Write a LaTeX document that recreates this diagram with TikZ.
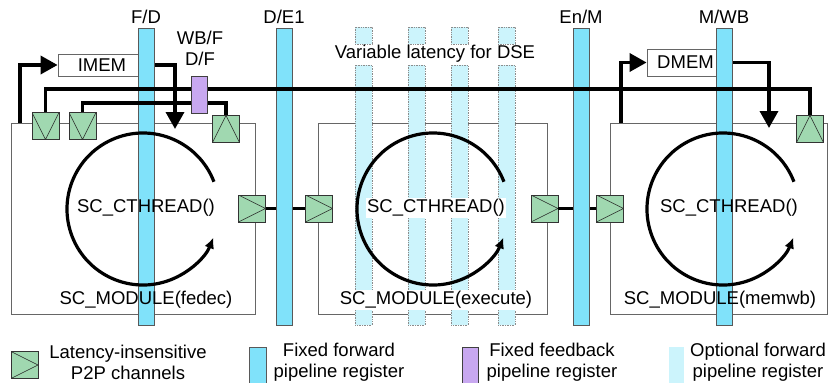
\documentclass[tikz,border=0pt]{standalone}
\usepackage{fontspec}
\setmainfont{Liberation Sans}
\usetikzlibrary{arrows.meta}
\definecolor{regcyan}{RGB}{128,226,250}
\definecolor{optcyan}{RGB}{204,244,252}
\definecolor{fbpurple}{RGB}{200,168,240}
\definecolor{chgreen}{RGB}{160,216,176}

\tikzset{
  module/.style={draw=black!60, line width=0.8pt, inner sep=0},
  memblock/.style={draw=black!60, line width=0.8pt, fill=white, inner sep=0},
  chan/.style={draw=black!80, fill=chgreen, line width=0.8pt, minimum size=27pt, inner sep=0},
  chanright/.style={chan, path picture={
      \draw[black!85, line width=0.6pt] (path picture bounding box.north west)
        -- (path picture bounding box.east) -- (path picture bounding box.south west);}},
  chanup/.style={chan, path picture={
      \draw[black!85, line width=0.6pt] (path picture bounding box.south west)
        -- (path picture bounding box.north) -- (path picture bounding box.south east);}},
  chandown/.style={chan, path picture={
      \draw[black!85, line width=0.6pt] (path picture bounding box.north west)
        -- (path picture bounding box.south) -- (path picture bounding box.north east);}},
  fwdreg/.style={draw=black!65, fill=regcyan, line width=0.8pt, minimum width=16pt, minimum height=297pt, inner sep=0},
  optreg/.style={draw=black!45, fill=optcyan, line width=0.7pt, densely dotted},
  fbreg/.style={draw=black!75, fill=fbpurple, line width=0.8pt, minimum width=16pt, minimum height=37pt, inner sep=0},
  memlink/.style={line width=3.5pt, -{Triangle[length=17pt,width=18pt]}},
  p2p/.style={line width=3.5pt},
  fbline/.style={line width=3.5pt},
  thread/.style={line width=3.2pt, -{Latex[length=11pt,width=10pt]}},
  label/.style={inner sep=1pt, align=center}
}

% one clocked thread: arc drawn round a centre coordinate
\newcommand{\cthread}[1]{
  \draw[thread] ([shift={(-21:76)}]#1) arc[start angle=-21, end angle=-338, radius=76];
}

\begin{document}
\begin{tikzpicture}[x=1pt,y=-1pt,font=\fontsize{18.5}{21}\selectfont]
  \useasboundingbox (0,0) rectangle (828,383);

  % the three stages
  \node[module, minimum width=244, minimum height=191] (fedec) at (133,218.5) {};
  \node[module, minimum width=229, minimum height=191] (execute) at (432.5,218.5) {};
  \node[module, minimum width=217, minimum height=191] (memwb) at (718.5,218.5) {};

  % memories
  \node[memblock, minimum width=88, minimum height=22] (imem) at (102,65) {IMEM};
  \node[memblock, minimum width=77, minimum height=27] (dmem) at (685.5,62.5) {DMEM};

  % ports on the stages
  \node[chandown] (wbport) at (45.5,126) {};
  \node[chandown] (dfport) at (82.5,126) {};
  \node[chanup] (dfout) at (226,129) {};
  \node[chanup] (wbout) at (810,129) {};
  \node[chanright] (fdout) at (252,208.5) {};
  \node[chanright] (exin) at (319,208.5) {};
  \node[chanright] (exout) at (544.5,208.5) {};
  \node[chanright] (mwin) at (610,208.5) {};

  % memory accesses
  \coordinate (fetchreq) at (20,123);
  \coordinate (fetchrsp) at (175,129);
  \coordinate (memreq) at (621,123);
  \coordinate (memrsp) at (769,128);
  \draw[memlink] (fetchreq) |- (imem.west);
  \draw[memlink] (imem.east) -| (fetchrsp);
  \draw[memlink] (memreq) |- (dmem.west);
  \draw[memlink] (dmem.east) -| (memrsp);

  % forward channels
  \draw[p2p] (fdout.east) -- (exin.west);
  \draw[p2p] (exout.east) -- (mwin.west);

  % fixed forward registers
  \node[fwdreg] (fd) at (146,176.5) {};
  \node[fwdreg] (de) at (284,176.5) {};
  \node[fwdreg] (enm) at (581,176.5) {};
  \node[fwdreg] (mwb) at (724,176.5) {};
  \node (fdlbl) at (146,17) {F/D};
  \node (delbl) at (284,17) {D/E1};
  \node (enmlbl) at (581,17) {En/M};
  \node (mwblbl) at (724,17) {M/WB};

  % optional registers inside execute
  \foreach \x in {363.5,416.5,459.5,506.5} {
    \draw[optreg] (\x-8.5,27) rectangle (\x+8.5,44);
    \draw[optreg] (\x-8.5,65) rectangle (\x+8.5,325);
  }
  \node (dse) at (435,54) {Variable latency for DSE};

  % threads
  \node[label] (fdthr) at (146,208) {SC\_CTHREAD()};
  \node[label] (fdmod) at (146,300) {SC\_MODULE(fedec)};
  \node[label, fill=white] (exthr) at (436,208) {SC\_CTHREAD()};
  \node[label, fill=white] (exmod) at (436,300) {SC\_MODULE(execute)};
  \node[label] (mwthr) at (729,208) {SC\_CTHREAD()};
  \node[label] (mwmod) at (720,300) {SC\_MODULE(memwb)};
  \coordinate (fdc) at (143,209);
  \coordinate (exc) at (433,209);
  \coordinate (mwc) at (723,209);
  \cthread{fdc}
  \cthread{exc}
  \cthread{mwc}

  % feedback paths
  \coordinate (wbrow) at (0,89);
  \coordinate (dfrow) at (0,103);
  \draw[fbline] (wbport.north) |- (wbrow -| wbout) -- (wbout.north);
  \draw[fbline] (dfport.north) |- (dfrow -| dfout) -- (dfout.north);
  \node[fbreg] (fb) at (199,94.5) {};
  \node[label] (fblbl) at (200,48.5) {WB/F\\D/F};

  % legend
  \node[chanright] (keychan) at (24.5,365) {};
  \node[label] (keychantxt) at (128,362.5) {Latency-insensitive\\P2P channels};
  \draw[draw=black!65, fill=regcyan, line width=0.8pt] (249,347) rectangle (266,390);
  \node[label] (keyfwd) at (339,362.5) {Fixed forward\\pipeline register};
  \draw[draw=black!75, fill=fbpurple, line width=0.8pt] (462,347) rectangle (478,390);
  \node[label] (keyfb) at (552,362.5) {Fixed feedback\\pipeline register};
  \fill[optcyan] (669,347) rectangle (684,390);
  \node[label] (keyopt) at (758,362.5) {Optional forward\\pipeline register};
\end{tikzpicture}
\end{document}
